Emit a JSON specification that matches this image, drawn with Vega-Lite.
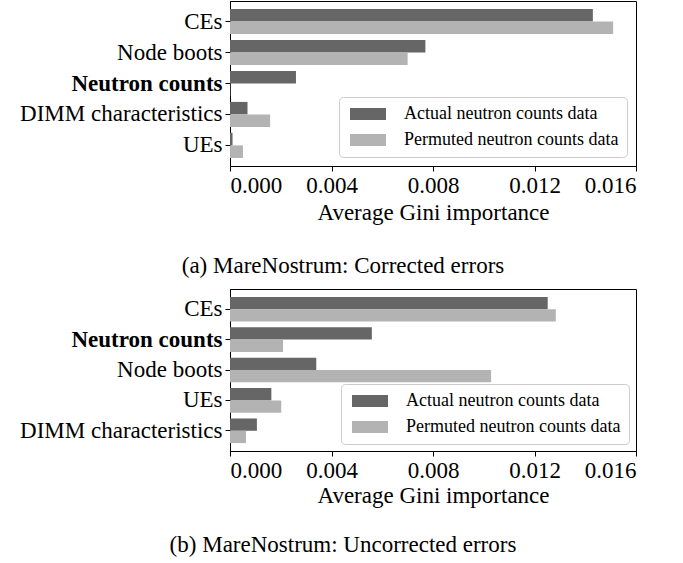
{
  "$schema": "https://vega.github.io/schema/vega-lite/v6.json",
  "padding": {"left": 19, "top": 0, "right": 5, "bottom": 5},
  "datasets": {
    "ce": [
      {"feature": "CEs", "series": "Actual neutron counts data", "importance": 0.0143},
      {"feature": "CEs", "series": "Permuted neutron counts data", "importance": 0.0151},
      {"feature": "Node boots", "series": "Actual neutron counts data", "importance": 0.0077},
      {"feature": "Node boots", "series": "Permuted neutron counts data", "importance": 0.0070},
      {"feature": "Neutron counts", "series": "Actual neutron counts data", "importance": 0.0026},
      {"feature": "Neutron counts", "series": "Permuted neutron counts data", "importance": 0.00001},
      {"feature": "DIMM characteristics", "series": "Actual neutron counts data", "importance": 0.00069},
      {"feature": "DIMM characteristics", "series": "Permuted neutron counts data", "importance": 0.00158},
      {"feature": "UEs", "series": "Actual neutron counts data", "importance": 0.0001},
      {"feature": "UEs", "series": "Permuted neutron counts data", "importance": 0.00051}
    ],
    "ue": [
      {"feature": "CEs", "series": "Actual neutron counts data", "importance": 0.01252},
      {"feature": "CEs", "series": "Permuted neutron counts data", "importance": 0.01284},
      {"feature": "Neutron counts", "series": "Actual neutron counts data", "importance": 0.00559},
      {"feature": "Neutron counts", "series": "Permuted neutron counts data", "importance": 0.00209},
      {"feature": "Node boots", "series": "Actual neutron counts data", "importance": 0.0034},
      {"feature": "Node boots", "series": "Permuted neutron counts data", "importance": 0.01029},
      {"feature": "UEs", "series": "Actual neutron counts data", "importance": 0.00163},
      {"feature": "UEs", "series": "Permuted neutron counts data", "importance": 0.00202},
      {"feature": "DIMM characteristics", "series": "Actual neutron counts data", "importance": 0.00106},
      {"feature": "DIMM characteristics", "series": "Permuted neutron counts data", "importance": 0.00063}
    ]
  },
  "spacing": 9,
  "resolve": {
    "scale": {"x": "independent", "y": "independent", "yOffset": "independent"},
    "legend": {"color": "independent"}
  },
  "vconcat": [
    {
      "data": {"name": "ce"},
      "width": 406,
      "height": 165,
      "title": {"text": "(a) MareNostrum: Corrected errors", "orient": "bottom", "anchor": "middle", "dx": -90, "offset": 31},
      "mark": {"type": "bar"},
      "encoding": {
        "y": {
          "field": "feature", "type": "nominal",
          "sort": ["CEs", "Node boots", "Neutron counts", "DIMM characteristics", "UEs"],
          "scale": {"paddingInner": 0.19, "paddingOuter": 0.26},
          "axis": {"title": null, "labelFont": "Liberation Serif", "labelFontSize": 23, "labelColor": "black", "tickColor": "black", "domainColor": "black", "tickSize": 5, "labelPadding": 3, "labelLimit": 400,
                   "labelFontWeight": {"expr": "datum.value == 'Neutron counts' ? 'bold' : 'normal'"}}
        },
        "yOffset": {"field": "series", "type": "nominal", "sort": ["Actual neutron counts data", "Permuted neutron counts data"]},
        "x": {
          "field": "importance", "type": "quantitative",
          "scale": {"domain": [0, 0.016], "nice": false},
          "axis": {"values": [0, 0.004, 0.008, 0.012, 0.016], "format": ".3f", "title": "Average Gini importance",
                   "labelFont": "Liberation Serif", "labelFontSize": 23, "labelColor": "black",
                   "titleFont": "Liberation Serif", "titleFontSize": 23, "titleFontWeight": "normal", "titleColor": "black",
                   "tickColor": "black", "domainColor": "black", "tickSize": 5, "labelPadding": 3, "titlePadding": 4, "grid": false}
        },
        "color": {
          "field": "series", "type": "nominal",
          "scale": {"domain": ["Actual neutron counts data", "Permuted neutron counts data"], "range": ["#666666", "#b3b3b3"]},
          "legend": {"title": null, "orient": "bottom-right", "offset": 9}
        }
      }
    },
    {
      "data": {"name": "ue"},
      "width": 406,
      "height": 162,
      "title": {"text": "(b) MareNostrum: Uncorrected errors", "orient": "bottom", "anchor": "middle", "dx": -90, "offset": 27},
      "mark": {"type": "bar"},
      "encoding": {
        "y": {
          "field": "feature", "type": "nominal",
          "sort": ["CEs", "Neutron counts", "Node boots", "UEs", "DIMM characteristics"],
          "scale": {"paddingInner": 0.19, "paddingOuter": 0.26},
          "axis": {"title": null, "labelFont": "Liberation Serif", "labelFontSize": 23, "labelColor": "black", "tickColor": "black", "domainColor": "black", "tickSize": 5, "labelPadding": 3, "labelLimit": 400,
                   "labelFontWeight": {"expr": "datum.value == 'Neutron counts' ? 'bold' : 'normal'"}}
        },
        "yOffset": {"field": "series", "type": "nominal", "sort": ["Actual neutron counts data", "Permuted neutron counts data"]},
        "x": {
          "field": "importance", "type": "quantitative",
          "scale": {"domain": [0, 0.016], "nice": false},
          "axis": {"values": [0, 0.004, 0.008, 0.012, 0.016], "format": ".3f", "title": "Average Gini importance",
                   "labelFont": "Liberation Serif", "labelFontSize": 23, "labelColor": "black",
                   "titleFont": "Liberation Serif", "titleFontSize": 23, "titleFontWeight": "normal", "titleColor": "black",
                   "tickColor": "black", "domainColor": "black", "tickSize": 5, "labelPadding": 3, "titlePadding": 2, "grid": false}
        },
        "color": {
          "field": "series", "type": "nominal",
          "scale": {"domain": ["Actual neutron counts data", "Permuted neutron counts data"], "range": ["#666666", "#b3b3b3"]},
          "legend": {"title": null, "orient": "bottom-right", "offset": 7}
        }
      }
    }
  ],
  "config": {
    "font": "Liberation Serif",
    "view": {"stroke": "black", "strokeWidth": 1},
    "bar": {"opacity": 1},
    "style": {
      "guide-label": {"font": "Liberation Serif", "fontSize": 23, "fill": "black"},
      "guide-title": {"font": "Liberation Serif", "fontSize": 23, "fontWeight": "normal", "fill": "black"}
    },
    "axis": {"grid": false},
    "legend": {
      "symbolType": "M-1,-1H5V1H-1Z",
      "symbolSize": 144,
      "symbolStrokeWidth": 0,
      "symbolOpacity": 1,
      "labelFont": "Liberation Serif",
      "labelFontSize": 18,
      "labelColor": "black",
      "labelOffset": 39,
      "rowPadding": 8,
      "padding": 8,
      "strokeColor": "#cccccc",
      "fillColor": "white",
      "cornerRadius": 4,
      "labelLimit": 400
    },
    "title": {"font": "Liberation Serif", "fontSize": 23, "fontWeight": "normal", "color": "black"}
  }
}
